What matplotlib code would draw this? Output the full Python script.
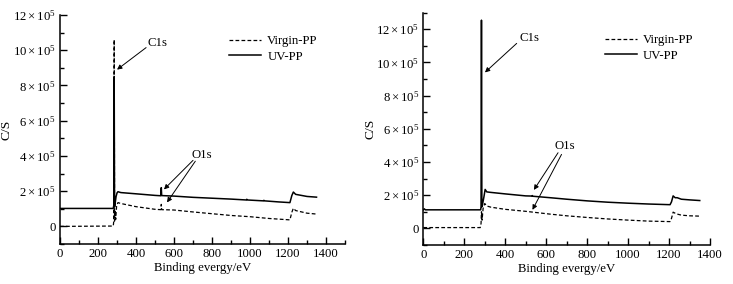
import numpy as np
import matplotlib
matplotlib.use("Agg")
import matplotlib.pyplot as plt
from matplotlib.ticker import FixedLocator, MultipleLocator, FuncFormatter

plt.rcParams['font.family'] = ['Liberation Serif', 'DejaVu Serif']
plt.rcParams['mathtext.fontset'] = 'custom'
plt.rcParams['mathtext.rm'] = 'Liberation Serif'
plt.rcParams['mathtext.it'] = 'Liberation Serif'

# values, counts in units of 1e5
# left panel
e_uv_a = [0, 280, 283, 285, 287, 290, 295, 300, 305, 320, 400, 500, 530, 533, 535,
          600, 700, 800, 900, 980, 983, 986, 1070, 1073, 1076, 1150, 1210, 1220,
          1228, 1240, 1250, 1300, 1350]
uv_a = [1.02, 1.02, 1.2, 8.5, 1.1, 1.3, 1.7, 1.9, 1.97, 1.92, 1.85, 1.76, 1.74, 2.2, 1.75,
        1.72, 1.65, 1.6, 1.55, 1.5, 1.54, 1.5, 1.45, 1.48, 1.45, 1.39, 1.35, 1.75,
        1.95, 1.82, 1.8, 1.7, 1.66]
e_vg_a = [0, 280, 282, 285, 287, 290, 293, 298, 305, 320, 400, 500, 530, 533, 535,
          600, 700, 800, 900, 1000, 1100, 1210, 1220, 1228, 1240, 1300, 1350]
vg_a = [0.0, 0.02, 0.2, 10.6, 0.3, 0.9, 0.4, 1.2, 1.35, 1.3, 1.12, 0.97, 0.95, 1.25, 0.95,
        0.93, 0.82, 0.72, 0.62, 0.55, 0.45, 0.37, 0.8, 1.03, 0.9, 0.75, 0.7]

# right panel
e_uv_b = [0, 5, 10, 280, 282, 284, 286, 290, 296, 302, 310, 330, 400, 500, 530, 532, 534,
          620, 700, 800, 900, 1000, 1100, 1205, 1212, 1220, 1230, 1240, 1260, 1300, 1350]
uv_b = [1.12, 1.18, 1.12, 1.12, 1.3, 12.55, 1.3, 1.5, 1.9, 2.35, 2.2, 2.17, 2.08, 1.96, 1.95,
        1.98, 1.94, 1.85, 1.76, 1.66, 1.58, 1.52, 1.47, 1.43, 1.6, 1.96, 1.85, 1.85,
        1.76, 1.72, 1.68]
e_vg_b = [0, 278, 282, 284, 287, 292, 300, 310, 330, 400, 500, 620, 700, 800, 900, 1000,
          1100, 1205, 1212, 1220, 1235, 1260, 1300, 1350]
vg_b = [0.05, 0.05, 0.3, 1.0, 0.5, 1.2, 1.5, 1.35, 1.28, 1.15, 1.03, 0.86, 0.76, 0.66, 0.57,
        0.5, 0.44, 0.41, 0.6, 0.98, 0.88, 0.8, 0.76, 0.74]

FS = 9.2

fig = plt.figure(figsize=(7.33, 2.84), dpi=100)
ax1 = fig.add_axes([0.0819, 0.1408, 0.3888, 0.8063])
ax2 = fig.add_axes([0.5775, 0.1373, 0.3911, 0.8180])


def y_fmt(v, pos):
    k = int(round(v / 1e5))
    if k == 0:
        return '0'
    return r'$\mathregular{%d\times10^5}$' % k


def style(ax, xmax, ymax):
    ax.set_xlim(0, xmax)
    ax.set_ylim(-1e5, ymax)
    for s in ['top', 'right']:
        ax.spines[s].set_visible(False)
    for s in ['left', 'bottom']:
        ax.spines[s].set_linewidth(1.1)
    ax.xaxis.set_major_locator(FixedLocator(np.arange(0, 1401, 200)))
    ax.xaxis.set_minor_locator(MultipleLocator(100))
    ax.yaxis.set_major_locator(FixedLocator(np.arange(0, 12.1e5, 2e5)))
    ax.yaxis.set_minor_locator(MultipleLocator(1e5))
    ax.yaxis.set_major_formatter(FuncFormatter(y_fmt))
    ax.tick_params(which='both', direction='in', labelsize=FS, width=1.0, pad=3)
    ax.tick_params(which='major', length=5)
    ax.tick_params(which='minor', length=3)
    ax.set_xlabel('Binding evergy/eV', fontsize=FS, labelpad=1)
    ax.set_ylabel('C/S', fontsize=FS + 0.5, labelpad=0)


def draw(ax, ev, vv, eu, uu):
    ax.plot(ev, np.array(vv) * 1e5, color='k', lw=0.9, ls=(0, (3, 1.8)), label='Virgin-PP')
    ax.plot(eu, np.array(uu) * 1e5, color='k', lw=1.1, label='UV-PP')


draw(ax1, e_vg_a, vg_a, e_uv_a, uv_a)
draw(ax2, e_vg_b, vg_b, e_uv_b, uv_b)
style(ax1, 1500, 12e5)
style(ax2, 1400, 13e5)

for ax, anchor in [(ax1, (0.575, 0.935)), (ax2, (0.615, 0.93))]:
    ax.legend(loc='upper left', bbox_to_anchor=anchor, frameon=False, fontsize=FS,
              handlelength=2.5, handletextpad=0.5, labelspacing=0.3, borderaxespad=0)

arw = dict(arrowstyle='-|>', lw=0.7, color='k', mutation_scale=7, shrinkA=0, shrinkB=0)

# left annotations
ax1.text(511, 10.4e5, 'C1s', fontsize=FS, ha='center', va='center')
ax1.annotate('', xy=(300, 8.9e5), xytext=(453, 10.15e5), arrowprops=arw)
ax1.text(747, 4.05e5, 'O1s', fontsize=FS, ha='center', va='center')
ax1.annotate('', xy=(547, 2.1e5), xytext=(700, 3.75e5), arrowprops=arw)
ax1.annotate('', xy=(563, 1.36e5), xytext=(712, 3.7e5), arrowprops=arw)

# right annotations
ax2.text(520, 11.5e5, 'C1s', fontsize=FS, ha='center', va='center')
ax2.annotate('', xy=(301, 9.4e5), xytext=(456, 11.15e5), arrowprops=arw)
ax2.text(691, 4.96e5, 'O1s', fontsize=FS, ha='center', va='center')
ax2.annotate('', xy=(540, 2.32e5), xytext=(658, 4.56e5), arrowprops=arw)
ax2.annotate('', xy=(533, 1.12e5), xytext=(675, 4.46e5), arrowprops=arw)

fig.savefig('out.png', dpi=100)
